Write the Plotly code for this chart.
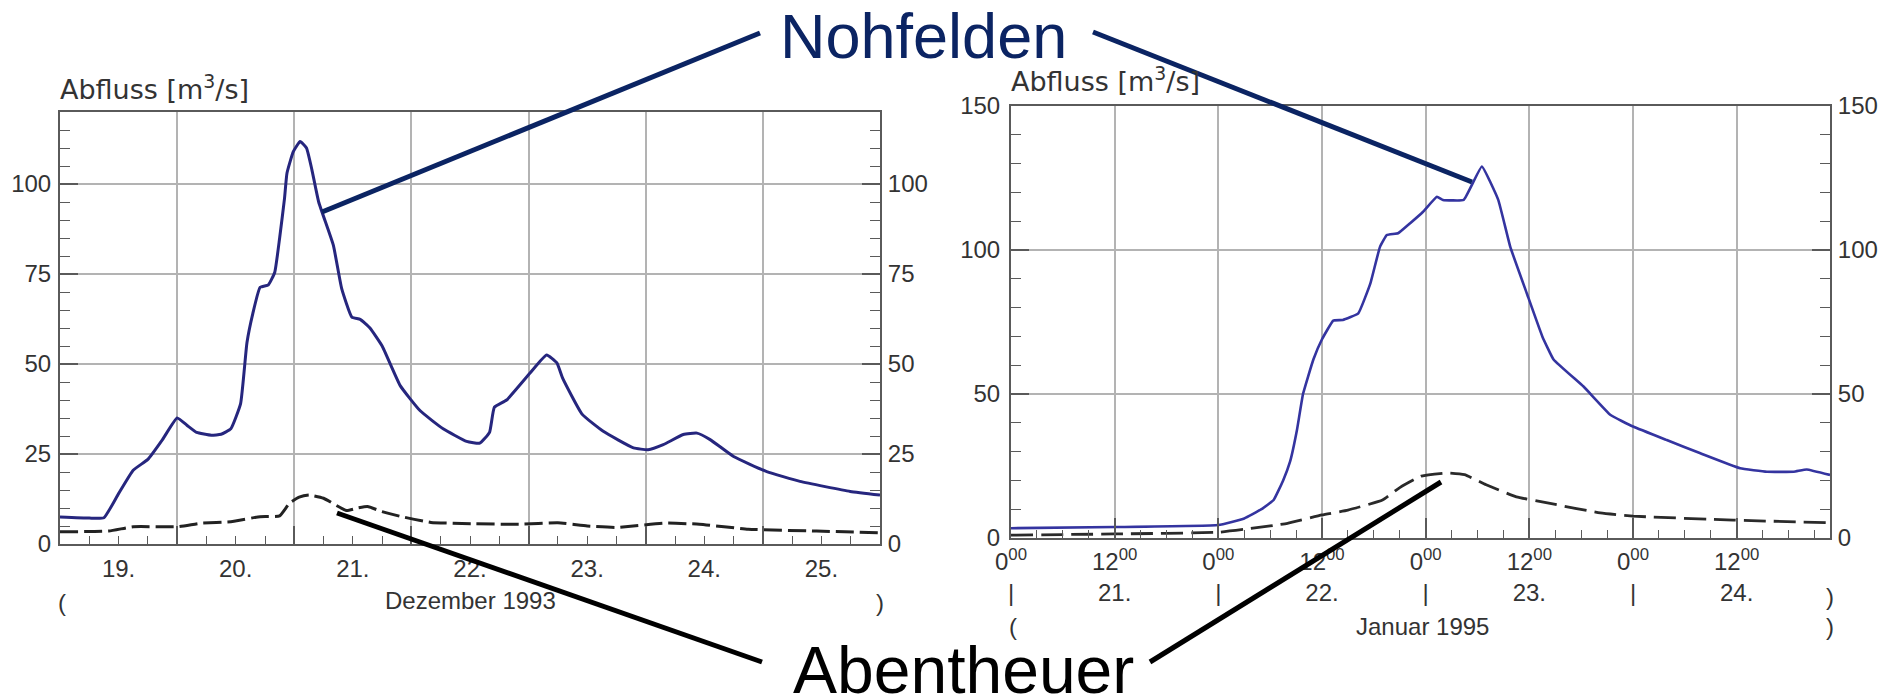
import plotly.graph_objects as go

# page body has an 8px default margin, so the figure is drawn 8px in from the top-left
OFF = 8
W, H = 1881, 688

# ---------------- data: December 1993 (hours from 19.12. 00:00) ----------------
noh93_h = [0, 6, 9, 12, 15, 18, 21, 24, 26, 28, 31, 33, 35, 37, 38.3, 39.5, 41, 42.7, 44, 45, 46,
           46.5, 47.8, 49.2, 50.5, 51.6, 53, 56, 57.7, 59.8, 61.5, 63.5, 66, 69.7, 73.8, 78.5, 83.3,
           86, 88, 89, 91.5, 96.3, 99.7, 101.8, 103, 107, 111.3, 117.5, 120.5, 123.6, 127.7, 130.5,
           133.2, 138, 144.8, 151.6, 161.9, 168]
noh93_q = [7.5, 7.2, 7.3, 14, 20.5, 23.5, 29, 35, 33, 31, 30.2, 30.5, 32, 39, 55.9, 64, 71.3, 72, 75.5, 85, 96,
           103, 109, 111.8, 110, 104, 95, 83, 71, 63, 62.4, 60, 55, 44, 37, 32, 28.5,
           28, 31, 38, 40, 47.5, 52.5, 50.3, 46, 36, 31.3, 26.7, 26.2, 27.6, 30.4, 30.8,
           29, 24.3, 20.1, 17.4, 14.6, 13.6]

abe93_h = [0, 10, 15, 24, 29, 35, 41, 45, 47, 49, 51, 54, 58.7, 61, 63, 66, 70, 76, 85, 94, 102,
           108, 114, 124, 131, 141, 155, 168]
abe93_q = [3.4, 3.6, 4.8, 4.8, 5.8, 6.2, 7.6, 7.8, 11.3, 13, 13.6, 12.7, 9.3, 10, 10.4, 9, 7.6, 6, 5.6, 5.5, 5.9,
           5, 4.6, 5.8, 5.5, 4.1, 3.6, 3.1]

# ---------------- data: January 1995 (hours from 21.01. 00:00) ----------------
noh95_h = [0, 12, 24, 27, 29, 30.4, 31.5, 32.3, 33.1, 33.8, 35, 36, 37.3, 38.4, 40.2, 41.6, 42.7, 43.5,
           44.8, 46.2, 47.7, 49.3, 50, 52.4, 54.5, 56.4, 57.8, 59.7, 61.5, 62.8, 66.3, 69.4, 72, 75.9,
           79.8, 84.4, 87.5, 90.6, 92.1, 94.8]
noh95_q = [3.4, 3.8, 4.5, 6.8, 10, 13.2, 20, 26.5, 37.5, 50, 62, 69, 75.5, 75.7, 78, 88.4, 101, 105.2,
           105.8, 109.3, 113.3, 118.5, 117.4, 117.4, 129, 117.4, 101, 85, 70, 62, 52.5, 42.7, 38.7, 34,
           29.4, 24.2, 23, 23, 23.8, 21.9]

abe95_h = [0, 12, 24, 28, 32, 36, 39, 43, 45, 47.5, 50.5, 52.5, 55, 58.5, 62.4, 68.2, 72, 83.6, 94.8]
abe95_q = [1, 1.4, 2, 3.4, 5.1, 8, 9.7, 13.2, 17.5, 21.5, 22.6, 22, 18.5, 14.3, 12, 8.7, 7.6, 6.2, 5.3]

# ---------------- tick labels ----------------
days93_vals = [12, 36, 60, 84, 108, 132, 156]
days93_text = ["19.", "20.", "21.", "22.", "23.", "24.", "25."]
hours95_vals = [0, 12, 24, 36, 48, 60, 72, 84]
hours95_text = ["0<sup>00</sup><br>|", "12<sup>00</sup><br>21.", "0<sup>00</sup><br>|", "12<sup>00</sup><br>22.",
                "0<sup>00</sup><br>|", "12<sup>00</sup><br>23.", "0<sup>00</sup><br>|", "12<sup>00</sup><br>24."]
q93_ticks = [0, 25, 50, 75, 100]
q95_ticks = [0, 50, 100, 150]

FONT = "Liberation Sans, Arial, sans-serif"
TXT = "#333333"
FRAME = "#5a5a5a"
GRID = "#b3b3b3"
NAVY = "#0b2463"


def px(x):
    return (x - OFF) / W


def py(y):
    return 1 - (y - OFF) / H


L_dom_x = [px(60), px(880)]
L_dom_y = [py(544), py(112)]
R_dom_x = [px(1011), px(1830)]
R_dom_y = [py(538), py(106)]

fig = go.Figure()

fig.add_trace(go.Scatter(x=noh93_h, y=noh93_q, mode="lines", xaxis="x", yaxis="y",
                         line=dict(color="#26267e", width=3, shape="spline", smoothing=0.4),
                         showlegend=False, hoverinfo="skip"))
fig.add_trace(go.Scatter(x=abe93_h, y=abe93_q, mode="lines", xaxis="x", yaxis="y",
                         line=dict(color="#222222", width=3, dash="18px,6px", shape="spline", smoothing=0.4),
                         showlegend=False, hoverinfo="skip"))
fig.add_trace(go.Scatter(x=noh95_h, y=noh95_q, mode="lines", xaxis="x3", yaxis="y3",
                         line=dict(color="#3434a0", width=2.6, shape="spline", smoothing=0.3),
                         showlegend=False, hoverinfo="skip"))
fig.add_trace(go.Scatter(x=abe95_h, y=abe95_q, mode="lines", xaxis="x3", yaxis="y3",
                         line=dict(color="#2a2a2a", width=2.8, dash="22px,8px", shape="spline", smoothing=0.4),
                         showlegend=False, hoverinfo="skip"))
# invisible traces so the overlay axes render
fig.add_trace(go.Scatter(x=[0], y=[0], xaxis="x2", yaxis="y2", mode="markers",
                         marker=dict(opacity=0), showlegend=False, hoverinfo="skip"))
fig.add_trace(go.Scatter(x=[0], y=[0], xaxis="x3", yaxis="y4", mode="markers",
                         marker=dict(opacity=0), showlegend=False, hoverinfo="skip"))

tickfont = dict(family=FONT, size=24, color=TXT)

common_y = dict(ticks="inside", ticklen=18, tickwidth=1.5, tickcolor=FRAME,
                showline=True, linecolor=FRAME, linewidth=2, tickfont=tickfont,
                zeroline=False, fixedrange=True, automargin=False)

fig.update_layout(
    width=W, height=H,
    margin=dict(l=0, r=0, t=0, b=0),
    paper_bgcolor="white", plot_bgcolor="white",
    font=dict(family=FONT, color=TXT),
    # ---- left chart ----
    xaxis=dict(domain=L_dom_x, anchor="y", range=[0, 168], tickmode="linear", tick0=0, dtick=24,
               showticklabels=False, ticks="inside", ticklen=18, tickwidth=1.5, tickcolor=FRAME,
               showgrid=True, gridcolor=GRID, gridwidth=2, automargin=False,
               minor=dict(dtick=6, tick0=0, ticks="inside", ticklen=8, tickwidth=1.2, tickcolor=FRAME, showgrid=False),
               showline=True, linecolor=FRAME, linewidth=2, mirror=True, zeroline=False),
    xaxis2=dict(overlaying="x", anchor="y", matches="x", range=[0, 168], tickmode="array",
                tickvals=days93_vals, ticktext=days93_text, ticks="", showgrid=False, automargin=False,
                showline=False, zeroline=False, tickfont=tickfont, ticklabelstandoff=8, side="bottom"),
    yaxis=dict(domain=L_dom_y, anchor="x", range=[0, 120], tickmode="array", tickvals=q93_ticks,
               showgrid=True, gridcolor=GRID, gridwidth=2, mirror=True,
               minor=dict(dtick=5, tick0=0, ticks="inside", ticklen=10, tickwidth=1.2, tickcolor=FRAME, showgrid=False),
               ticklabelstandoff=2, **common_y),
    yaxis2=dict(overlaying="y", anchor="x", side="right", matches="y", range=[0, 120], tickmode="array",
                tickvals=q93_ticks, showgrid=False,
                minor=dict(dtick=5, tick0=0, ticks="inside", ticklen=10, tickwidth=1.2, tickcolor=FRAME, showgrid=False),
                ticklabelstandoff=1, **common_y),
    # ---- right chart ----
    xaxis3=dict(domain=R_dom_x, anchor="y3", range=[0, 94.8], tickmode="array",
                tickvals=hours95_vals, ticktext=hours95_text, tickfont=tickfont,
                ticks="inside", ticklen=20, tickwidth=1.5, tickcolor=FRAME, ticklabelstandoff=1,
                showgrid=True, gridcolor=GRID, gridwidth=2, automargin=False,
                minor=dict(dtick=3, tick0=0, ticks="inside", ticklen=8, tickwidth=1.2, tickcolor=FRAME, showgrid=False),
                showline=True, linecolor=FRAME, linewidth=2, mirror=True, zeroline=False),
    yaxis3=dict(domain=R_dom_y, anchor="x3", range=[0, 150], tickmode="array", tickvals=q95_ticks,
                showgrid=True, gridcolor=GRID, gridwidth=2, mirror=True,
                minor=dict(dtick=10, tick0=0, ticks="inside", ticklen=10, tickwidth=1.2, tickcolor=FRAME, showgrid=False),
                ticklabelstandoff=4, **common_y),
    yaxis4=dict(overlaying="y3", anchor="x3", side="right", matches="y3", range=[0, 150], tickmode="array",
                tickvals=q95_ticks, showgrid=False,
                minor=dict(dtick=10, tick0=0, ticks="inside", ticklen=10, tickwidth=1.2, tickcolor=FRAME, showgrid=False),
                ticklabelstandoff=1, **common_y),
)

ann = []


def text(x, y, s, size=24, color=TXT, xanchor="center", yanchor="middle", family=FONT):
    ann.append(dict(x=px(x), y=py(y), xref="paper", yref="paper", text=s, showarrow=False,
                    xanchor=xanchor, yanchor=yanchor, font=dict(family=family, size=size, color=color)))


text(58, 88, "Abfluss [m<sup>3</sup>/s]", size=27, xanchor="left", family="DejaVu Sans")
text(1009, 80, "Abfluss [m<sup>3</sup>/s]", size=27, xanchor="left", family="DejaVu Sans")
text(62, 602, "(", size=24)
text(880, 602, ")", size=24)
text(470, 600, "Dezember 1993", size=24)
text(1013, 626, "(", size=24)
text(1830, 596, ")", size=24)
text(1830, 626, ")", size=24)
text(1422, 626, "Januar 1995", size=24)
text(923, 36, "Nohfelden", size=63, color=NAVY)
text(963, 670, "Abentheuer", size=66, color="#000000")
fig.update_layout(annotations=ann)

shapes = []


def seg(x0, y0, x1, y1, color, width=5):
    shapes.append(dict(type="line", xref="paper", yref="paper", x0=px(x0), y0=py(y0), x1=px(x1), y1=py(y1),
                       line=dict(color=color, width=width)))


seg(322, 212, 760, 33, NAVY)
seg(1093, 32, 1472, 182, NAVY)
seg(337, 513, 762, 662, "#000000")
seg(1441, 482, 1150, 662, "#000000")
fig.update_layout(shapes=shapes)

fig.write_html("out.html")
